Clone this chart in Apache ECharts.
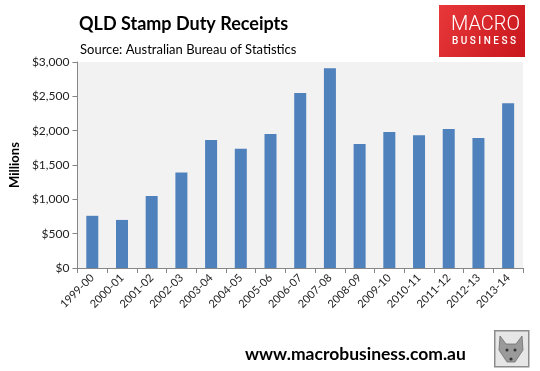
<!DOCTYPE html>
<html><head><meta charset="utf-8">
<script src="https://cdn.jsdelivr.net/npm/echarts@6/dist/echarts.min.js"></script>
<style>html,body{margin:0;padding:0;background:#fff}#c{width:540px;height:371px}</style>
</head><body><div id="c"></div>
<script>
const categories = ['1999-00','2000-01','2001-02','2002-03','2003-04','2004-05','2005-06','2006-07','2007-08','2008-09','2009-10','2010-11','2011-12','2012-13','2013-14'];
const receipts = [760, 700, 1050, 1390, 1865, 1735, 1950, 2550, 2910, 1805, 1980, 1935, 2025, 1895, 2400];
const yTicks = { min: 0, max: 3000, interval: 500 };
const titleText = 'QLD Stamp Duty Receipts';
const subtitleText = 'Source: Australian Bureau of Statistics';
const yAxisName = 'Millions';
const footerText = 'www.macrobusiness.com.au';

const FONT = 'Lato';
const chart = echarts.init(document.getElementById('c'), null, {renderer: 'canvas'});
chart.setOption({
  animation: false,
  backgroundColor: '#fff',
  grid: { left: 75, right: 17, top: 62, bottom: 103, backgroundColor: '#f2f2f2', show: true, borderWidth: 0 },
  title: [
    { text: titleText, left: 74, top: 10, textStyle: { fontFamily: FONT, fontSize: 18, fontWeight: 'bold', color: '#000' } },
    { text: subtitleText, left: 75, top: 38, textStyle: { fontFamily: FONT, fontSize: 13, fontWeight: 'normal', color: '#000' } }
  ],
  xAxis: {
    type: 'category', data: categories,
    axisLine: { lineStyle: { color: '#868686' } },
    axisTick: { show: true, alignWithLabel: false, length: 5, lineStyle: { color: '#868686' } },
    axisLabel: { rotate: 45, fontFamily: FONT, fontSize: 11, color: '#222', margin: 8 }
  },
  yAxis: {
    type: 'value', min: yTicks.min, max: yTicks.max, interval: yTicks.interval,
    name: yAxisName, nameLocation: 'middle', nameGap: 56,
    nameTextStyle: { fontFamily: FONT, fontSize: 13, fontWeight: 'bold', color: '#000' },
    axisLine: { show: true, lineStyle: { color: '#868686' } },
    axisTick: { show: true, length: 5, lineStyle: { color: '#868686' } },
    splitLine: { show: false },
    axisLabel: { fontFamily: FONT, fontSize: 12, color: '#222', margin: 8,
      formatter: v => '$' + v.toLocaleString('en-US') }
  },
  series: [{ type: 'bar', data: receipts, barWidth: 12, itemStyle: { color: '#4f81bd' } }],
  graphic: [
    { type: 'rect', left: 439, top: 5, shape: { width: 86, height: 52 },
      style: { fill: new echarts.graphic.LinearGradient(0, 0, 1, 1, [{offset: 0, color: '#e8383a'}, {offset: 1, color: '#c8161c'}]) } },
    { type: 'text', left: 451, top: 15, style: { text: 'MACRO', fill: '#fff', font: '300 20px Roboto' } },
    { type: 'text', left: 452, top: 36, style: { text: 'B U S I N E S S', fill: '#fff', font: '500 10px Roboto' } },
    { type: 'text', left: 245, top: 345, style: { text: footerText, fill: '#000', font: 'bold 17.5px Lato' } },
    { type: 'rect', left: 494, top: 330, shape: { width: 34, height: 36 }, style: { fill: '#e6e6e6', stroke: '#8c8c8c', lineWidth: 1.5 } },
    { type: 'polygon', shape: { points: [[500,336],[506,344],[516,344],[522,336],[523,350],[515,362],[507,362],[499,350]] }, style: { fill: '#9a9a9a', stroke: '#6f6f6f', lineWidth: 0.8 } },
    { type: 'circle', shape: { cx: 507, cy: 350, r: 1.5 }, style: { fill: '#333' } },
    { type: 'circle', shape: { cx: 515, cy: 350, r: 1.5 }, style: { fill: '#333' } },
    { type: 'circle', shape: { cx: 511, cy: 359, r: 1.6 }, style: { fill: '#333' } }
  ]
});
</script></body></html>
